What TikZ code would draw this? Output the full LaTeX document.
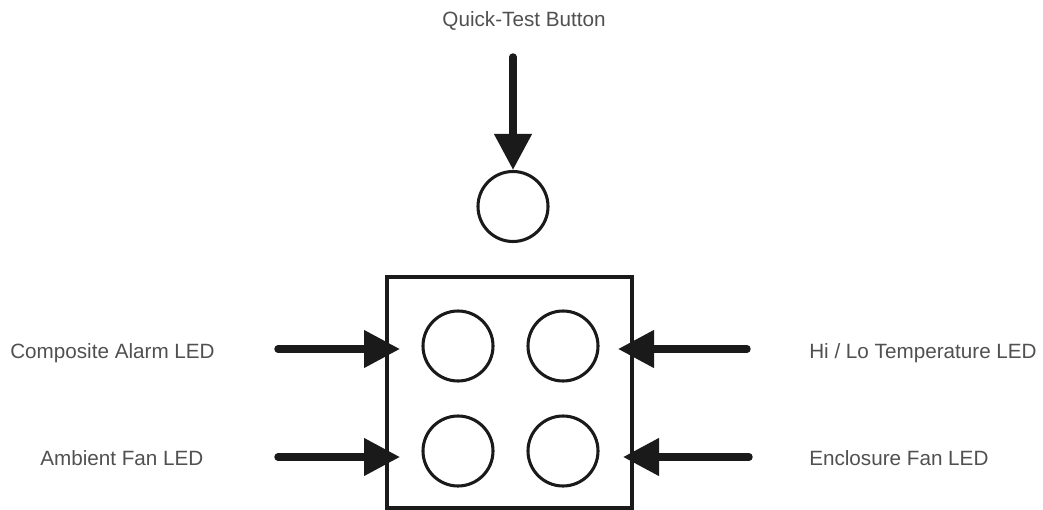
\documentclass[tikz,border=0pt]{standalone}
\usepackage{fontspec}
\setmainfont{Liberation Sans}
\usetikzlibrary{arrows.meta}
\definecolor{ink}{HTML}{1A1A1A}
\definecolor{txt}{HTML}{505050}
\begin{document}
\begin{tikzpicture}[x=0.75pt,y=-0.75pt,
  lbl/.style={text=txt,font=\fontsize{15.5pt}{18pt}\selectfont,inner sep=0pt},
  led/.style={circle,draw=ink,line width=2.3pt,minimum size=52.5pt,inner sep=0pt},
  panel/.style={draw=ink,line width=2.3pt},
  bigarrow/.style={draw=ink,line width=5.6pt,line cap=round,
    -{Triangle[length=27pt,width=27pt]}}]
\useasboundingbox (0,0) rectangle (1043,510);
% panel
\draw[panel] (387,277) rectangle (632,508);
% button and LEDs
\node[led] (btn) at (513,206.5) {};
\node[led] (l1) at (458,346) {};
\node[led] (l2) at (563,346) {};
\node[led] (l3) at (458,451) {};
\node[led] (l4) at (563,451) {};
% labels
\node[lbl,anchor=mid] (tq) at (524,23) {Quick-Test Button};
\node[lbl,anchor=mid west] (tc) at (10,355) {Composite Alarm LED};
\node[lbl,anchor=mid west] (ta) at (40,462) {Ambient Fan LED};
\node[lbl,anchor=mid west] (th) at (809,355) {Hi / Lo Temperature LED};
\node[lbl,anchor=mid west] (te) at (809,462) {Enclosure Fan LED};
% arrow endpoints
\coordinate (qs) at (513,57);
\coordinate (cs) at (278,349);
\coordinate (ce) at (400,349);
\coordinate (as) at (278,457);
\coordinate (ae) at (400,457);
\coordinate (hs) at (747,349);
\coordinate (he) at (618,349);
\coordinate (es) at (749,457);
\coordinate (ee) at (623,457);
% arrows
\draw[bigarrow] (qs) -- (btn.north);
\draw[bigarrow] (cs) -- (ce);
\draw[bigarrow] (as) -- (ae);
\draw[bigarrow] (hs) -- (he);
\draw[bigarrow] (es) -- (ee);
\end{tikzpicture}
\end{document}
